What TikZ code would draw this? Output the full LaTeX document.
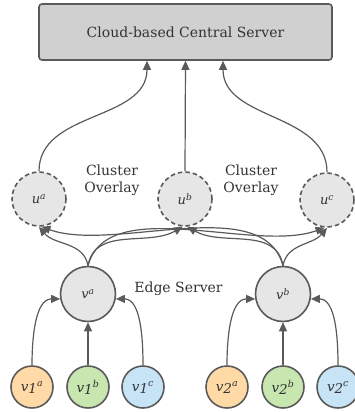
\documentclass[tikz,border=0pt]{standalone}
\usepackage{fontspec}
\setmainfont{DejaVu Serif}
\usetikzlibrary{arrows.meta}
\definecolor{edgec}{HTML}{5A5A5A}
\definecolor{boxfill}{HTML}{D0D0D0}
\definecolor{nodefill}{HTML}{E6E6E6}
\definecolor{orfill}{HTML}{FFD9A6}
\definecolor{grfill}{HTML}{C8E6B0}
\definecolor{blfill}{HTML}{C6E4F6}
\definecolor{txt}{HTML}{333333}
\tikzset{
  every node/.style={text=txt},
  cloudbox/.style={draw=edgec, fill=boxfill, line width=1.6pt, rounded corners=3pt, minimum width=293pt, minimum height=56pt, inner sep=0pt, font=\fontsize{14}{16}\selectfont},
  clusternode/.style={circle, draw=edgec, fill=nodefill, line width=1.6pt, dashed, dash pattern=on 4.5pt off 3pt, minimum size=54pt, inner sep=0pt, font=\fontsize{13}{15}\selectfont\itshape},
  edgenode/.style={circle, draw=edgec, fill=nodefill, line width=1.6pt, minimum size=55pt, inner sep=0pt, font=\fontsize{13}{15}\selectfont\itshape},
  leafnode/.style={circle, draw=edgec, line width=1.6pt, minimum size=42pt, inner sep=0pt, font=\fontsize{13.5}{15}\selectfont\itshape},
  lbl/.style={font=\fontsize{14}{17}\selectfont, align=center, inner sep=0pt},
  conn/.style={draw=edgec, line width=1.2pt, -{Triangle[length=9pt,width=8pt]}},
}
\newcommand{\leaflab}[2]{v\raisebox{-0.25ex}{#1}\textsuperscript{#2}}
\begin{document}
\begin{tikzpicture}[x=1pt,y=-1pt]
\useasboundingbox (0,0) rectangle (354,412);
% cloud
\node[cloudbox] (cloud) at (185.5,32) {Cloud-based Central Server};
% cluster overlay
\node[clusternode] (ua) at (39,199) {u\textsuperscript{a}};
\node[clusternode] (ub) at (185,199) {u\textsuperscript{b}};
\node[clusternode] (uc) at (327,200) {u\textsuperscript{c}};
\node[lbl] (cl1) at (112,180) {Cluster\\Overlay};
\node[lbl] (cl2) at (251,180) {Cluster\\Overlay};
% edge servers
\node[edgenode] (va) at (88,294) {v\textsuperscript{a}};
\node[edgenode] (vb) at (283,294) {v\textsuperscript{b}};
\node[lbl] (es) at (178.5,289) {Edge Server};
% leaves
\node[leafnode, fill=orfill] (v1a) at (32,387) {\leaflab{1}{a}};
\node[leafnode, fill=grfill] (v1b) at (88,387) {\leaflab{1}{b}};
\node[leafnode, fill=blfill] (v1c) at (143,387) {\leaflab{1}{c}};
\node[leafnode, fill=orfill] (v2a) at (227,387) {\leaflab{2}{a}};
\node[leafnode, fill=grfill] (v2b) at (283,387) {\leaflab{2}{b}};
\node[leafnode, fill=blfill] (v2c) at (338,387) {\leaflab{2}{c}};
% leaf -> edge
\draw[conn] (v1a.north) to[out=90,in=180,looseness=0.9] (va.190);
\draw[conn] (v1b.north) -- (va.south);
\draw[conn] (v1c.north) to[out=90,in=0,looseness=0.9] (va.-10);
\draw[conn] (v2a.north) to[out=90,in=180,looseness=0.9] (vb.190);
\draw[conn] (v2b.north) -- (vb.south);
\draw[conn] (v2c.north) to[out=90,in=0,looseness=0.9] (vb.-10);
% edge -> cluster
\draw[conn] (va.north) to[out=100,in=-50] (ua.south);
\draw[conn] (va.north) to[out=80,in=-150] (ub.-95);
\draw[conn] (va.north) to[out=75,in=-160,looseness=0.8] (uc.-95);
\draw[conn] (vb.north) to[out=105,in=-20,looseness=0.8] (ua.-85);
\draw[conn] (vb.north) to[out=100,in=-30] (ub.-85);
\draw[conn] (vb.north) to[out=80,in=-130] (uc.south);
% cluster -> cloud
\draw[conn] (ua.north) to[out=90,in=-90] (cloud.south -| 147,0);
\draw[conn] (ub.north) -- (cloud.south);
\draw[conn] (uc.north) to[out=90,in=-90] (cloud.south -| 223,0);
\end{tikzpicture}
\end{document}
